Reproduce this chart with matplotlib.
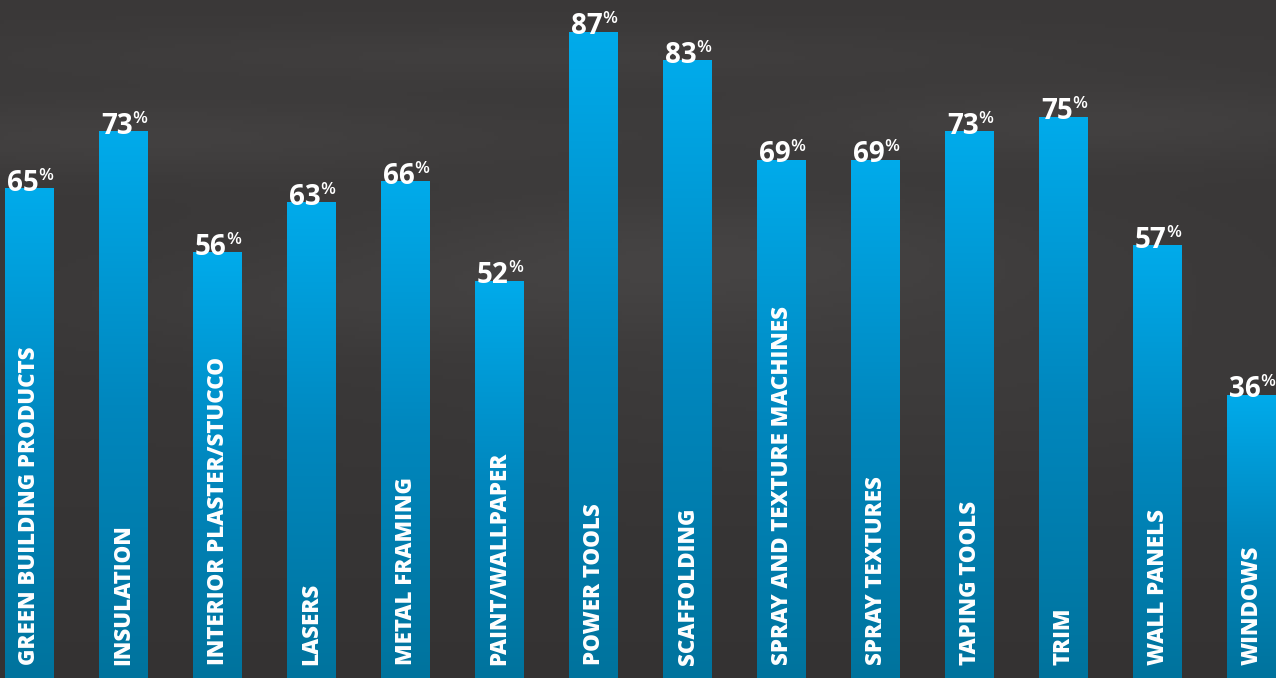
import matplotlib
matplotlib.use("Agg")
import matplotlib.pyplot as plt
import numpy as np
from matplotlib.colors import LinearSegmentedColormap
from matplotlib.transforms import blended_transform_factory

# Data read from the infographic
categories = [
    "GREEN BUILDING PRODUCTS",
    "INSULATION",
    "INTERIOR PLASTER/STUCCO",
    "LASERS",
    "METAL FRAMING",
    "PAINT/WALLPAPER",
    "POWER TOOLS",
    "SCAFFOLDING",
    "SPRAY AND TEXTURE MACHINES",
    "SPRAY TEXTURES",
    "TAPING TOOLS",
    "TRIM",
    "WALL PANELS",
    "WINDOWS",
]
values = [65, 73, 56, 63, 66, 52, 87, 83, 69, 69, 73, 75, 57, 36]

# Styling
base = -3.75
top = 91.5
bar_width = 0.52
bar_cmap = LinearSegmentedColormap.from_list(
    "bars", [(0.0, "#00739d"), (0.5, "#0087be"), (1.0, "#00abeb")]
)
bg_cmap = LinearSegmentedColormap.from_list("bg", ["#323030", "#4a4848"])

fig = plt.figure(figsize=(12.76, 6.78), dpi=100)
fig.patch.set_facecolor("#3a3838")

# Background: soft dark gray with a few lighter cloudy patches
bg_ax = fig.add_axes([0, 0, 1, 1], zorder=0)
gx, gy = np.meshgrid(np.linspace(0, 1, 320), np.linspace(0, 1, 170))
shade = 0.35 + 0.0 * gx
for cx, cy, sx, sy, amp in [
    (0.10, 0.80, 0.25, 0.04, 0.35),
    (0.55, 0.62, 0.20, 0.07, 0.45),
    (0.85, 0.82, 0.18, 0.04, 0.35),
    (0.40, 0.92, 0.30, 0.03, 0.25),
    (0.70, 0.45, 0.25, 0.10, 0.20),
    (0.25, 0.55, 0.15, 0.05, 0.20),
]:
    shade += amp * np.exp(-((gx - cx) ** 2) / (2 * sx**2) - ((gy - cy) ** 2) / (2 * sy**2))
shade -= 0.25 * (1 - gy) ** 2
bg_ax.imshow(np.clip(shade, 0, 1), cmap=bg_cmap, vmin=0, vmax=1,
             extent=(0, 1, 0, 1), origin="lower", aspect="auto")
bg_ax.set_axis_off()

ax = fig.add_axes([0, 0, 1, 1], zorder=1)
ax.patch.set_alpha(0)
x = np.arange(len(categories))
ax.set_xlim(-29.5 / 94, (1276 - 29.5) / 94)
ax.set_ylim(base, top)
ax.set_axis_off()

grad = np.linspace(0, 1, 256).reshape(-1, 1)
for xi, v in zip(x, values):
    x0, x1 = xi - bar_width / 2, xi + bar_width / 2
    ax.imshow(grad, cmap=bar_cmap, extent=(x0, x1, base, v), origin="lower",
              aspect="auto", interpolation="bilinear", zorder=2)

    # value label: big number with a smaller raised percent sign
    ax.annotate(str(v), xy=(xi, v), xytext=(9, -2), textcoords="offset pixels",
                ha="right", va="baseline", color="white", fontsize=20,
                fontweight="bold", family="Open Sans", zorder=4)
    ax.annotate("%", xy=(xi, v), xytext=(9, 21), textcoords="offset pixels",
                ha="left", va="top", color="white", fontsize=12.5,
                fontweight="semibold", family="Open Sans", zorder=4)

trans = blended_transform_factory(ax.transData, ax.transAxes)
for xi, name in zip(x, categories):
    ax.text(xi, 0.019, name, transform=trans, rotation=90, ha="center",
            va="bottom", color="white", fontsize=16, fontweight="heavy",
            family="Open Sans", zorder=4)

fig.savefig("out.png", dpi=100, facecolor=fig.get_facecolor())
